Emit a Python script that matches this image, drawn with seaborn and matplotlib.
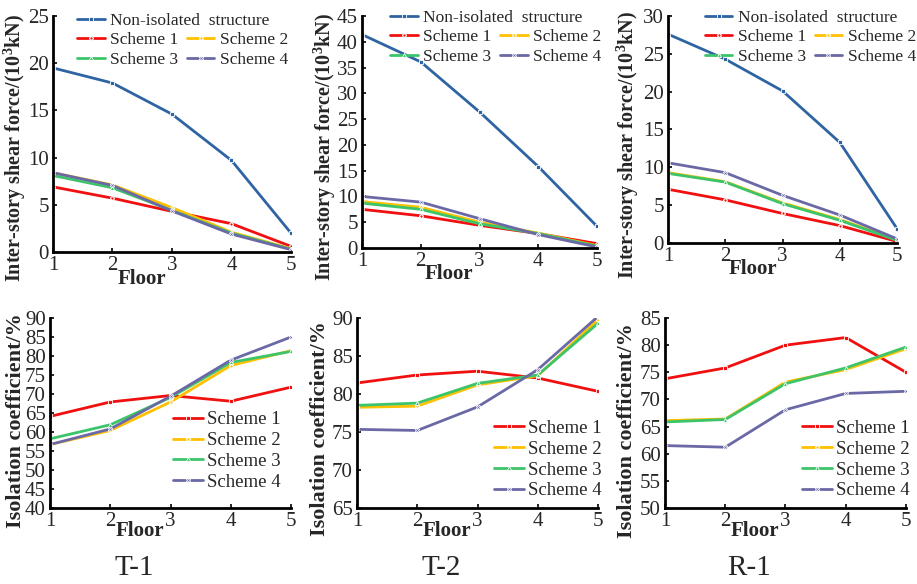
import matplotlib
matplotlib.use("Agg")
import matplotlib.pyplot as plt
import seaborn as sns
import pandas as pd

floors = [1, 2, 3, 4, 5]
names = ["Non-isolated  structure", "Scheme 1", "Scheme 2", "Scheme 3", "Scheme 4"]
colors = ["#2f64a2", "#f01010", "#ffc000", "#3cc46a", "#6a69a6"]
markers = ["s", "P", "P", "^", "X"]

# inter-story shear force, 10^3 kN
t1_shear = [[19.5, 17.9, 14.6, 9.7, 2.0],
            [6.9, 5.7, 4.3, 3.0, 0.6],
            [8.4, 7.1, 4.7, 2.1, 0.35],
            [8.1, 6.8, 4.4, 2.0, 0.3],
            [8.4, 7.05, 4.35, 1.9, 0.25]]
t2_shear = [[41.4, 36.1, 26.4, 15.8, 4.2],
            [7.5, 6.25, 4.4, 2.8, 0.85],
            [9.0, 7.9, 5.0, 2.9, 0.45],
            [8.7, 7.5, 4.7, 2.8, 0.35],
            [10.0, 8.9, 5.7, 2.6, 0.2]]
r1_shear = [[27.6, 24.3, 20.1, 13.3, 1.9],
            [7.1, 5.7, 3.9, 2.3, 0.2],
            [9.3, 8.1, 5.3, 3.1, 0.45],
            [9.2, 8.05, 5.2, 3.0, 0.35],
            [10.6, 9.3, 6.3, 3.7, 0.55]]

# isolation coefficient, %
t1_coef = [[64.1, 67.9, 69.6, 68.1, 71.8],
           [56.7, 60.4, 67.9, 77.5, 81.4],
           [58.2, 61.9, 69.1, 78.3, 81.2],
           [56.7, 60.8, 69.4, 78.9, 85.0]]
t2_coef = [[81.45, 82.5, 83.0, 82.1, 80.35],
           [78.25, 78.4, 81.2, 82.4, 89.8],
           [78.5, 78.8, 81.4, 82.5, 89.3],
           [75.35, 75.2, 78.3, 83.2, 90.2]]
r1_coef = [[73.8, 75.8, 80.0, 81.4, 75.0],
           [66.1, 66.4, 73.2, 75.5, 79.35],
           [65.85, 66.3, 72.9, 75.8, 79.65],
           [61.5, 61.2, 68.1, 71.1, 71.5]]

sns.set_style("ticks")
plt.rcParams['font.family'] = ['Liberation Serif', 'DejaVu Serif']
plt.rcParams['mathtext.fontset'] = 'custom'
plt.rcParams['mathtext.rm'] = 'Liberation Serif'
plt.rcParams['mathtext.bf'] = 'Liberation Serif:bold'

W, H = 917, 584
fig = plt.figure(figsize=(W / 100, H / 100), dpi=100)


def make_ax(l, r, t, b):
    return fig.add_axes([l / W, 1 - b / H, (r - l) / W, (b - t) / H])


def style_ax(ax, ylim, ystep, ylabel, ylab_xy, flo_x, ysize):
    ax.set_xlim(1, 5)
    ax.set_ylim(*ylim)
    ax.set_xticks(floors)
    ax.set_yticks(range(ylim[0], ylim[1] + 1, ystep))
    ax.tick_params(direction="in", length=3, width=1.2, labelsize=15, pad=3, color="black")
    for s in ["top", "right"]:
        ax.spines[s].set_visible(False)
    for s in ["left", "bottom"]:
        ax.spines[s].set_linewidth(2)
        ax.spines[s].set_color("black")
    ax.set_xlabel("Floor", fontsize=15, fontweight="bold")
    ax.xaxis.set_label_coords(flo_x, -0.07)
    ax.set_ylabel(ylabel, fontsize=ysize, fontweight="bold")
    ax.yaxis.set_label_coords(*ylab_xy)


def draw(ax, series, names_, colors_, markers_):
    handles = []
    for vals, nm, c, m in zip(series, names_, colors_, markers_):
        df = pd.DataFrame({"Floor": floors, "v": vals})
        sns.lineplot(data=df, x="Floor", y="v", ax=ax, color=c, lw=2,
                     marker=m, markersize=3, markeredgewidth=0.6, label=nm,
                     legend=False)
        handles.append(ax.lines[-1])
    return handles


top = [
    (t1_shear, (53, 291, 16, 252), (0, 25), 5, (-0.105, 0.44), 0.373, (0.10, 3)),
    (t2_shear, (362, 597, 16, 248), (0, 45), 5, (-0.10, 0.435), 0.372, (0.12, 0)),
    (r1_shear, (668, 897, 16, 243), (0, 30), 5, (-0.118, 0.43), 0.373, (0.16, 0)),
]
for data, box, ylim, ystep, ylxy, fx, (lgx, dy) in top:
    ax = make_ax(*box)
    h = draw(ax, data, names, colors, markers)
    style_ax(ax, ylim, ystep, "Inter-story shear force/(10$^\\mathbf{3}$kN)", ylxy, fx, 14.5)
    axh = box[3] - box[2]
    leg1 = ax.legend([h[0]], [names[0]], loc="upper left", frameon=False,
                     bbox_to_anchor=(lgx, 1 + (6 - dy) / axh), borderpad=0, borderaxespad=0,
                     handlelength=1.6, handletextpad=0.3, fontsize=12.5)
    ax.add_artist(leg1)
    ax.legend([h[1], h[3], h[2], h[4]], [names[1], names[3], names[2], names[4]],
              ncol=2, loc="upper left", frameon=False,
              bbox_to_anchor=(lgx, 1 - (13 + dy) / axh), borderpad=0, borderaxespad=0,
              handlelength=1.6, handletextpad=0.3, columnspacing=0.5,
              labelspacing=0.2, fontsize=12.5)

bottom = [
    (t1_coef, (50, 291, 318, 508), (40, 90), 5, (-0.10, 0.46), 0.373, (0.51, 0.51)),
    (t2_coef, (357, 598, 318, 508), (65, 90), 5, (-0.11, 0.42), 0.375, (0.57, 0.465)),
    (r1_coef, (665, 906, 318, 508), (50, 85), 5, (-0.115, 0.41), 0.375, (0.57, 0.465)),
]
titles = ["T-1", "T-2", "R-1"]
for (data, box, ylim, ystep, ylxy, fx, lg), ttl in zip(bottom, titles):
    ax = make_ax(*box)
    h = draw(ax, data, names[1:], colors[1:], ["s", "P", "^", "X"])
    style_ax(ax, ylim, ystep, "Isolation coefficient/%", ylxy, fx, 16)
    ax.legend(h, names[1:], loc="upper left", frameon=False, bbox_to_anchor=lg,
              borderpad=0, borderaxespad=0, handlelength=1.6, handletextpad=0.2,
              labelspacing=0.2, fontsize=13.5)
    fig.text((box[0] + box[1]) / 2 / W - 0.04, 1 - 568 / H, ttl, fontsize=21,
             ha="center", va="center")

fig.savefig("out.png", dpi=100)
